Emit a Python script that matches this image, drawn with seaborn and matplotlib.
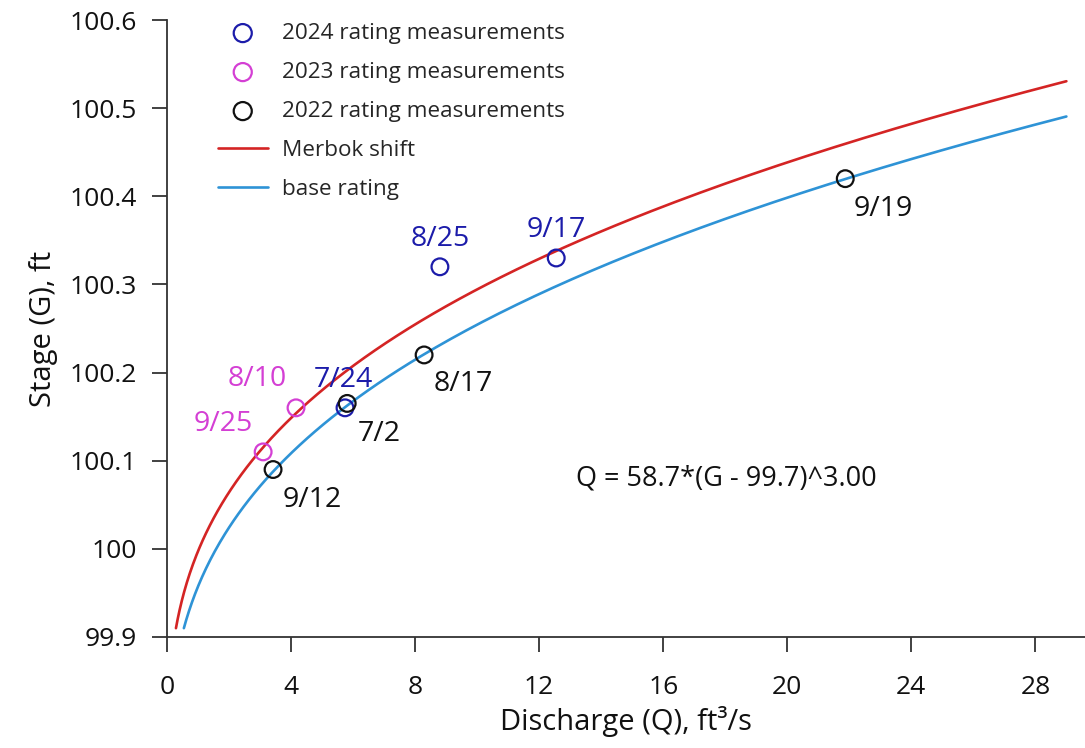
import numpy as np
import pandas as pd
import matplotlib
matplotlib.use("Agg")
import matplotlib.pyplot as plt
import seaborn as sns

# Rating measurements (discharge Q in ft3/s, stage G in ft)
q_2024 = [8.8, 12.55, 5.74]
g_2024 = [100.32, 100.33, 100.16]
lab_2024 = ["8/25", "9/17", "7/24"]

q_2023 = [4.16, 3.10]
g_2023 = [100.16, 100.11]
lab_2023 = ["8/10", "9/25"]

q_2022 = [3.42, 5.81, 8.29, 21.87]
g_2022 = [100.09, 100.165, 100.22, 100.42]
lab_2022 = ["9/12", "7/2", "8/17", "9/19"]

# Rating equation shown on the chart: Q = C*(G - e)^b, Merbok shift adds to stage
rating_c = 58.7
rating_e = 99.7
rating_b = 3.0
merbok_shift = 0.04
stage_min = 99.91
q_max = 29.0

equation_text = "Q = 58.7*(G - 99.7)^3.00"
x_ticks = [0, 4, 8, 12, 16, 20, 24, 28]
y_ticks = [99.9, 100, 100.1, 100.2, 100.3, 100.4, 100.5, 100.6]

sns.set_theme(style="ticks")
plt.rcParams["font.family"] = ["Open Sans", "DejaVu Sans"]

# curves from the rating equation
g_top = rating_e + (q_max / rating_c) ** (1 / rating_b)
g_base = np.linspace(stage_min, g_top, 300)
base = pd.DataFrame({"G": g_base, "Q": rating_c * (g_base - rating_e) ** rating_b})
g_shift = np.linspace(stage_min, g_top + merbok_shift, 300)
shift = pd.DataFrame({"G": g_shift,
                      "Q": rating_c * (g_shift - rating_e - merbok_shift) ** rating_b})

fig = plt.figure(figsize=(10.85, 7.48), dpi=100)
ax = fig.add_axes([167 / 1085, 1 - 637 / 748, 1 - 167 / 1085, (637 - 20) / 748])

red = "#d42424"
lblue = "#2e93d6"
dblue = "#1c1caa"
magenta = "#d43fd4"
black = "#111111"

sns.lineplot(data=shift, x="Q", y="G", sort=False, estimator=None, color=red,
             lw=1.9, ax=ax, label="Merbok shift")
sns.lineplot(data=base, x="Q", y="G", sort=False, estimator=None, color=lblue,
             lw=1.9, ax=ax, label="base rating")

groups = [
    (q_2024, g_2024, lab_2024, dblue, "2024 rating measurements",
     [(0, 20), (0, 20), (-1, 20)]),
    (q_2023, g_2023, lab_2023, magenta, "2023 rating measurements",
     [(-28, 21), (-29, 20)]),
    (q_2022, g_2022, lab_2022, black, "2022 rating measurements",
     [(28, -22), (23, -22), (28, -21), (27, -22)]),
]
for q, g, labs, col, name, offs in groups:
    sns.scatterplot(x=q, y=g, marker="o", s=145, facecolors="none",
                    edgecolor=col, linewidth=1.6, ax=ax, label=name, zorder=5)
    for qi, gi, lab, off in zip(q, g, labs, offs):
        ax.annotate(lab, (qi, gi), xytext=off, textcoords="offset points",
                    ha="center", va="center", fontsize=20.5, color=col)

ax.text(13.2, 100.08, equation_text, fontsize=19.5, color=black,
        ha="left", va="center")

ax.set_xlim(0, 29.6)
ax.set_ylim(99.9, 100.6)
ax.set_xticks(x_ticks)
ax.set_yticks(y_ticks)
ax.set_yticklabels([f"{v:g}" for v in y_ticks])
ax.tick_params(axis="both", labelsize=19, color="#333333", labelcolor=black,
               length=11, width=1.3)
ax.tick_params(axis="x", pad=16)
ax.tick_params(axis="y", pad=11)
for side in ["top", "right"]:
    ax.spines[side].set_visible(False)
for side in ["left", "bottom"]:
    ax.spines[side].set_linewidth(1.3)
    ax.spines[side].set_color("#333333")

ax.set_xlabel("Discharge (Q), ft\u00b3/s", fontsize=21, color=black, labelpad=5)
ax.set_ylabel("Stage (G), ft", fontsize=21, color=black, labelpad=8)

# legend in the reference order
h, l = ax.get_legend_handles_labels()
order = [l.index(n) for n in ["2024 rating measurements", "2023 rating measurements",
                              "2022 rating measurements", "Merbok shift", "base rating"]]
ax.legend([h[i] for i in order], [l[i] for i in order], loc="upper left",
          bbox_to_anchor=(218 / 1085, 1 - 23 / 748), bbox_transform=fig.transFigure,
          frameon=False, fontsize=16.2, handlelength=2.2, handletextpad=0.65,
          labelspacing=0.8, borderpad=0, borderaxespad=0, markerscale=1.08)

fig.savefig("out.png", dpi=100)
